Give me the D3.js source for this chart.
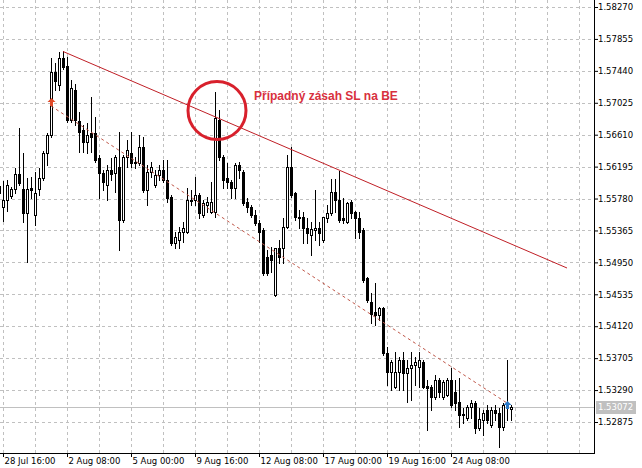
<!DOCTYPE html>
<html>
<head>
<meta charset="utf-8">
<script src="https://cdn.jsdelivr.net/npm/d3@7/dist/d3.min.js"></script>
<style>
  html, body { margin: 0; padding: 0; background: #fff; }
  svg { display: block; }
</style>
</head>
<body>
<script>
// ---------- DATA (H4 candles) ----------
const open = [
1.55943,1.55670,1.55761,1.55813,1.55904,1.56099,1.55904,1.55592,1.55917,1.55566,
1.55904,1.56047,1.56372,1.56606,1.57425,1.57256,1.57607,1.57503,1.56801,1.57191,
1.56788,1.56671,1.56515,1.56632,1.56632,1.56307,1.56112,1.55956,1.56151,1.56112,
1.56190,1.55501,1.56320,1.56372,1.56255,1.56242,1.56450,1.55891,1.56125,1.55956,
1.56086,1.56151,1.56021,1.55800,1.55202,1.55241,1.55345,1.55345,1.55748,1.55761,
1.55826,1.55566,1.55696,1.55605,1.55605,1.56801,1.56320,1.56047,1.55995,1.55917,
1.56216,1.56125,1.55735,1.55670,1.55566,1.55462,1.55371,1.55020,1.55046,1.54526,
1.55137,1.55137,1.55410,1.56190,1.55852,1.55540,1.55540,1.55397,1.55306,1.55371,
1.55397,1.55241,1.55527,1.55592,1.55865,1.55761,1.55527,1.55475,1.55735,1.55605,
1.55527,1.55371,1.54747,1.54435,1.54305,1.54266,1.54357,1.53772,1.53525,1.53330,
1.53525,1.53681,1.53512,1.53577,1.53616,1.53590,1.53655,1.53343,1.53330,1.53200,
1.53421,1.53200,1.53226,1.53421,1.53265,1.53135,1.52979,1.52927,1.53070,1.53122,
1.52797,1.52901,1.53031,1.52836,1.53031,1.52992,1.52810,1.53057,1.53044
];
const high = [
1.56021,1.56008,1.56021,1.55930,1.56177,1.56697,1.56372,1.56047,1.56060,1.56125,
1.56177,1.56398,1.56632,1.57607,1.57542,1.57685,1.57698,1.57620,1.57321,1.57269,
1.56905,1.56736,1.56762,1.57100,1.56840,1.56346,1.56151,1.56216,1.56307,1.56346,
1.56645,1.56346,1.56541,1.56645,1.56320,1.56606,1.56580,1.56216,1.56255,1.56151,
1.56216,1.56281,1.56281,1.55826,1.55345,1.55410,1.55475,1.55917,1.55891,1.56060,
1.55852,1.55761,1.55800,1.55995,1.57165,1.56931,1.56346,1.56242,1.56021,1.56242,
1.56255,1.56151,1.55787,1.55696,1.55631,1.55501,1.55397,1.55111,1.55150,1.55137,
1.55241,1.55527,1.56346,1.56450,1.55865,1.55631,1.55605,1.55527,1.55475,1.55891,
1.55475,1.55540,1.55696,1.56034,1.56034,1.56138,1.55787,1.55735,1.55761,1.55618,
1.55605,1.55397,1.54760,1.54552,1.54682,1.54370,1.54370,1.53850,1.53681,1.53785,
1.53720,1.53785,1.53681,1.53785,1.53720,1.53785,1.53681,1.53421,1.53356,1.53486,
1.53447,1.53421,1.53447,1.53577,1.53421,1.53447,1.53057,1.53096,1.53161,1.53148,
1.53057,1.53031,1.53096,1.53070,1.53096,1.53057,1.53122,1.53681,1.53096
];
const low = [
1.55787,1.55488,1.55618,1.55787,1.55852,1.55956,1.55475,1.54955,1.55787,1.55436,
1.55826,1.56021,1.56216,1.56580,1.57191,1.57191,1.57464,1.56775,1.56775,1.56736,
1.56385,1.56385,1.56372,1.56385,1.56255,1.55787,1.55891,1.55761,1.56021,1.55865,
1.55111,1.55475,1.56190,1.56190,1.56177,1.56216,1.55865,1.55696,1.56060,1.55930,
1.56021,1.55995,1.55735,1.55176,1.55137,1.55137,1.55215,1.55332,1.55696,1.55696,
1.55527,1.55540,1.55605,1.55592,1.55540,1.56281,1.55917,1.55917,1.55787,1.55787,
1.56047,1.55696,1.55605,1.55540,1.55436,1.55215,1.54786,1.54786,1.54825,1.54513,
1.54942,1.54942,1.55397,1.55800,1.55501,1.55397,1.55202,1.55202,1.55046,1.55241,
1.55176,1.55215,1.55475,1.55566,1.55605,1.55475,1.55462,1.55462,1.55527,1.55267,
1.55267,1.54695,1.54435,1.54162,1.54136,1.54201,1.53746,1.53356,1.53291,1.53317,
1.53291,1.53291,1.53135,1.53161,1.53356,1.53330,1.53317,1.52771,1.53031,1.53174,
1.53200,1.53174,1.53213,1.53070,1.53031,1.52810,1.52862,1.52901,1.52927,1.52732,
1.52771,1.52706,1.52862,1.52810,1.52901,1.52550,1.52771,1.52901,1.52901
];
const close = [
1.55852,1.55761,1.55956,1.55904,1.56099,1.55982,1.55592,1.55904,1.55891,1.55852,
1.56047,1.56372,1.56606,1.57425,1.57308,1.57607,1.57490,1.56801,1.57217,1.56801,
1.56645,1.56515,1.56606,1.56580,1.56281,1.56112,1.55995,1.56151,1.56099,1.56320,
1.55501,1.56320,1.56411,1.56242,1.56242,1.56450,1.55891,1.56125,1.56190,1.56086,
1.56151,1.56021,1.55787,1.55202,1.55280,1.55345,1.55397,1.55761,1.55761,1.55826,
1.55592,1.55722,1.55735,1.55735,1.56827,1.56320,1.56021,1.55995,1.55917,1.56216,
1.56151,1.55722,1.55670,1.55566,1.55462,1.55345,1.54812,1.54812,1.54981,1.55137,
1.55020,1.55410,1.56190,1.55826,1.55540,1.55527,1.55397,1.55332,1.55384,1.55397,
1.55332,1.55540,1.55592,1.55865,1.55761,1.55501,1.55501,1.55722,1.55592,1.55527,
1.55345,1.54721,1.54461,1.54279,1.54266,1.54357,1.53772,1.53525,1.53655,1.53525,
1.53681,1.53512,1.53577,1.53616,1.53655,1.53681,1.53330,1.53317,1.53200,1.53421,
1.53265,1.53395,1.53421,1.53096,1.53122,1.52966,1.52966,1.53070,1.53122,1.52797,
1.52914,1.52992,1.52901,1.53031,1.52992,1.52810,1.53096,1.53096,1.53072
];

const priceTicks = [1.58270,1.57855,1.57440,1.57025,1.56610,1.56195,1.55780,
                    1.55365,1.54950,1.54535,1.54120,1.53705,1.53290,1.52875];
const timeLabels = ["28 Jul 16:00","2 Aug 08:00","5 Aug 00:00","9 Aug 16:00",
                    "12 Aug 08:00","17 Aug 00:00","19 Aug 16:00","24 Aug 08:00"];
const timeLabelBar = [1,17,33,49,65,81,97,113];
const lastPrice = 1.53072;

// annotations (bar index, price)
const trendLine = [[16, 1.57692], [142, 1.54877]];
const tradeLine = [[13, 1.56983], [127, 1.53122]];
const openArrow = [13, 1.57035];
const closeArrow = [127, 1.53096];
const circleCenter = [54.5, 1.56925];
const noteText = "Případný zásah SL na BE";
const notePos = [63.75, 1.57061];

// ---------- LAYOUT ----------
const W = 642, H = 468, plotR = 594, plotB = 453;
const x = d3.scaleLinear().domain([0, 148.75]).range([-1, plotR]);
const y = d3.scaleLinear().domain([1.52875, 1.58270]).range([422, 7]);
const px = v => Math.round(v) + 0.5;

const svg = d3.select("body").append("svg").attr("width", W).attr("height", H);
svg.append("rect").attr("width", W).attr("height", H).attr("fill", "#fff");
svg.append("defs").append("clipPath").attr("id", "plot")
  .append("rect").attr("x", 0).attr("y", 0).attr("width", plotR).attr("height", plotB);

const plot = svg.append("g").attr("clip-path", "url(#plot)");

// grid
const gridBars = d3.range(1, 149, 8);
plot.append("g").selectAll("line").data(gridBars).join("line")
  .attr("x1", d => px(x(d))).attr("x2", d => px(x(d)))
  .attr("y1", 0).attr("y2", plotB)
  .attr("stroke", "#c0c0c0").attr("stroke-dasharray", "3,3");
plot.append("g").selectAll("line").data(priceTicks).join("line")
  .attr("x1", 0).attr("x2", plotR)
  .attr("y1", d => px(y(d))).attr("y2", d => px(y(d)))
  .attr("stroke", "#c0c0c0").attr("stroke-dasharray", "3,3");

// current price line
plot.append("line").attr("x1", 0).attr("x2", plotR)
  .attr("y1", px(y(lastPrice))).attr("y2", px(y(lastPrice)))
  .attr("stroke", "#c0c0c0");

// candles
const bars = open.map((o, i) => ({i, o, h: high[i], l: low[i], c: close[i]}));
const cg = plot.append("g");
bars.forEach(b => {
  const cx = Math.round(x(b.i));
  cg.append("line")
    .attr("x1", cx + 0.5).attr("x2", cx + 0.5)
    .attr("y1", Math.round(y(b.h))).attr("y2", Math.round(y(b.l)) + 1)
    .attr("stroke", "#000");
  const top = Math.round(y(Math.max(b.o, b.c)));
  const bot = Math.round(y(Math.min(b.o, b.c)));
  cg.append("rect")
    .attr("x", cx - 0.5).attr("y", top + 0.5)
    .attr("width", 2).attr("height", Math.max(bot - top, 0))
    .attr("fill", b.c >= b.o ? "#fff" : "#000")
    .attr("stroke", "#000");
});

// trade (dashed) line
plot.append("line")
  .attr("x1", x(tradeLine[0][0])).attr("y1", y(tradeLine[0][1]))
  .attr("x2", x(tradeLine[1][0])).attr("y2", y(tradeLine[1][1]))
  .attr("stroke", "#c0584a").attr("stroke-width", 1).attr("stroke-dasharray", "3,3");

// trend line
plot.append("line")
  .attr("x1", x(trendLine[0][0])).attr("y1", y(trendLine[0][1]))
  .attr("x2", x(trendLine[1][0])).attr("y2", y(trendLine[1][1]))
  .attr("stroke", "#c01f26").attr("stroke-width", 1);

// arrows
const arrowPath = "M0,-4L4,0L1.5,0L1.5,4L-1.5,4L-1.5,0L-4,0Z";
plot.append("path").attr("d", arrowPath)
  .attr("transform", `translate(${x(openArrow[0]) + 0.5},${y(openArrow[1])})`)
  .attr("fill", "#e04a2a");
plot.append("path").attr("d", arrowPath)
  .attr("transform", `translate(${x(closeArrow[0]) + 0.5},${y(closeArrow[1])})`)
  .attr("fill", "#2a78c8");

// circle
plot.append("circle")
  .attr("cx", x(circleCenter[0])).attr("cy", y(circleCenter[1])).attr("r", 29)
  .attr("fill", "none").attr("stroke", "#d8202c").attr("stroke-width", 3);

// note
plot.append("text")
  .attr("x", x(notePos[0])).attr("y", y(notePos[1]))
  .attr("fill", "#d8303e")
  .attr("font-family", "'Liberation Sans', Arial, sans-serif")
  .attr("font-weight", "bold").attr("font-size", "12px")
  .text(noteText);

// frame
svg.append("line").attr("x1", plotR + 0.5).attr("x2", plotR + 0.5)
  .attr("y1", 0).attr("y2", plotB + 1).attr("stroke", "#000");
svg.append("line").attr("x1", 0).attr("x2", plotR + 1)
  .attr("y1", plotB + 0.5).attr("y2", plotB + 0.5).attr("stroke", "#000");

const axisFont = "'DejaVu Sans', Tahoma, sans-serif";

// right price axis
const ya = svg.append("g").attr("transform", `translate(${plotR},0)`)
  .call(d3.axisRight(y).tickValues(priceTicks).tickSize(4).tickFormat(d3.format(".5f")));
ya.select(".domain").remove();
ya.selectAll("line").attr("stroke", "#000");
ya.selectAll("text").attr("x", 4).attr("fill", "#000")
  .attr("font-family", axisFont).attr("font-size", "8.5px");

// current price label
const lp = svg.append("g").attr("transform", `translate(${plotR},${Math.round(y(lastPrice))})`);
lp.append("rect").attr("x", 2).attr("y", -6).attr("width", 40).attr("height", 13).attr("fill", "#c0c0c0");
lp.append("text").attr("x", 4).attr("y", 0.5).attr("dy", "0.32em").attr("fill", "#fff")
  .attr("font-family", axisFont).attr("font-size", "8.5px").text(d3.format(".5f")(lastPrice));

// bottom time axis
const xa = svg.append("g").attr("transform", `translate(0,${plotB})`)
  .call(d3.axisBottom(x).tickValues(timeLabelBar).tickSize(4)
    .tickFormat((d, k) => timeLabels[k]));
xa.select(".domain").remove();
xa.selectAll("line").attr("stroke", "#000");
xa.selectAll("text").attr("x", 1).attr("y", 5).attr("text-anchor", "start").attr("fill", "#000")
  .attr("font-family", axisFont).attr("font-size", "8.5px");
</script>
</body>
</html>
